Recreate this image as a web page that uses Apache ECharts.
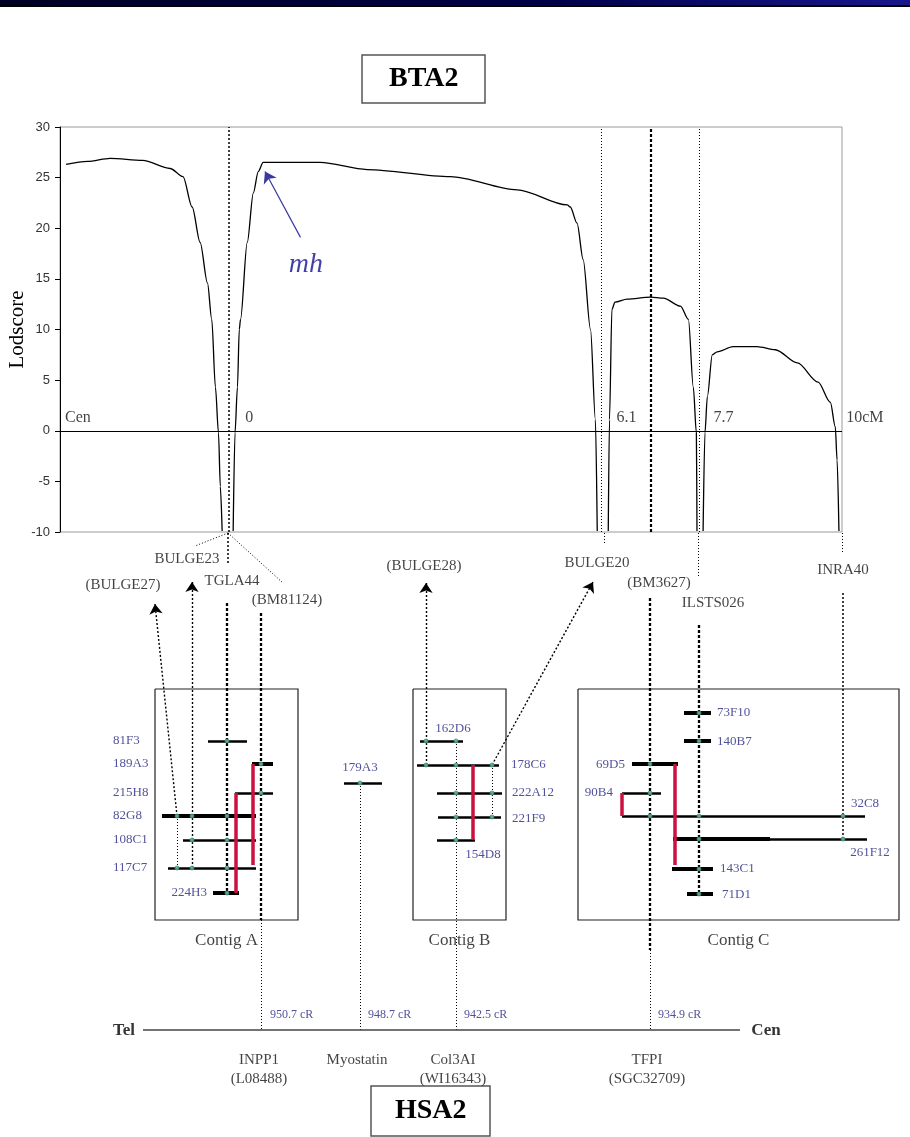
<!DOCTYPE html>
<html>
<head>
<meta charset="utf-8">
<script src="https://cdn.jsdelivr.net/npm/echarts@6/dist/echarts.min.js"></script>
<style>
html, body { margin: 0; padding: 0; background: #fff; }
#chart { width: 910px; height: 1137px; }
</style>
</head>
<body>
<div id="chart"></div>
<script>
// ---- BTA2 lodscore curve, [cM, lodscore], one array per stretch between markers
const lodLeft = [[-2.65,26.3],[-2.3,26.6],[-1.93,26.9],[-1.4,26.7],[-0.95,25.9],[-0.74,25.1],[-0.59,22.1],[-0.46,18.6],[-0.34,14.6],[-0.27,11.0],[-0.21,4.3],[-0.16,-0.2],[-0.13,-5.5],[-0.10,-9.9]];
const lodMid = [[0.08,-9.9],[0.11,-0.2],[0.15,4.3],[0.18,10.0],[0.20,11.0],[0.31,18.6],[0.41,23.5],[0.49,25.6],[0.57,26.5],[1.50,26.5],[2.27,25.8],[3.63,25.1],[4.72,23.8],[5.54,22.3],[5.59,22.1],[5.70,20.5],[5.80,16.9],[5.92,10.0],[6.00,1.1],[6.03,-9.9]];
const lodRight1 = [[6.21,-9.9],[6.23,1.1],[6.27,12.0],[6.32,12.7],[6.52,13.0],[6.90,13.2],[7.11,13.1],[7.39,12.3],[7.52,11.0],[7.60,4.3],[7.65,-0.2],[7.66,-9.9]];
const lodRight2 = [[7.76,-9.9],[7.79,-0.2],[7.83,3.4],[7.91,7.5],[7.99,7.8],[8.25,8.3],[8.64,8.3],[8.94,8.0],[9.30,6.7],[9.64,4.8],[9.84,2.8],[9.92,0.4],[9.95,-2.9],[9.98,-9.9]];

// map positions on the genetic map (cM)
const posLabels = ['Cen', '0', '6.1', '7.7', '10cM'];
const posCM = [-2.75, 0, 6.1, 7.7, 10];
const markerLineCM = [0, 6.1, 6.9, 7.7];          // 6.9 = BM3627
const mhArrow = [[1.18, 19.1], [0.60, 25.6]];       // tail -> head
const mhText = [1.27, 16.4];

// ---- physical map (diagram units = page pixels)
const cloneNames = ['81F3','189A3','215H8','82G8','108C1','117C7','224H3','179A3','162D6','178C6','222A12','221F9','154D8','73F10','140B7','69D5','90B4','32C8','261F12','143C1','71D1'];
const cloneY     = [741, 764, 793, 816, 840, 868, 893, 783, 741, 765, 793, 817, 840, 713, 741, 764, 793, 816, 839, 869, 894];
const cloneStart = [208, 252, 235, 162, 183, 168, 213, 344, 420, 417, 437, 438, 437, 684, 684, 632, 622, 622, 673, 672, 687];
const cloneEnd   = [247, 273, 273, 256, 256, 256, 239, 382, 463, 499, 502, 501, 475, 711, 711, 678, 661, 865, 867, 713, 713];

// red overlap connectors [x, yTop, yBottom]
const overlaps = [[253, 764, 865], [236, 793, 893], [473, 765, 840], [622, 793, 816], [675, 764, 865]];

const contigNames = ['Contig A', 'Contig B', 'Contig C'];
const contigBoxes = [[155, 689, 298, 920], [413, 689, 506, 920], [578, 689, 899, 920]];

const markerNames = ['BULGE23','(BULGE27)','TGLA44','(BM81124)','(BULGE28)','BULGE20','(BM3627)','ILSTS026','INRA40'];
const markerX = [187, 123, 232, 287, 424, 597, 659, 713, 843];
const markerY = [559, 585, 581, 600, 566, 563, 583, 603, 570];

// guide lines [x1, y1, x2, y2]
const guidesThin = [[228,533,195,546],[228,533,283,583],[604,533,604,543],[698,533,698,578],[842,533,842,552],
                    [177,868,177,816],[261,920,261,1030],[360,783,360,1030],[456,741,456,1030],[492,765,492,817],[650,950,650,1030]];
const guidesMid = [[228,533,228,563],[843,593,843,839]];
const guidesThick = [[227,603,227,893],[261,613,261,920],[650,598,650,950],[699,625,699,894]];
const guideArrows = [[192,868,192,582],[177,816,155,604],[426,765,426,583],[492,765,593,582]];

// HSA2 map
const genes = ['INPP1', 'Myostatin', 'Col3AI', 'TFPI'];
const geneAcc = ['(L08488)', '', '(WI16343)', '(SGC32709)'];
const geneCR = ['950.7 cR', '948.7 cR', '942.5 cR', '934.9 cR'];
const geneX = [262, 360, 456, 650];
const hsaLine = [143, 740, 1030];

// ---- styles / layout
const serif = '"Liberation Serif", "Times New Roman", serif';
const sans = '"Liberation Sans", Arial, sans-serif';
const navy = '#25257f';
const thickClones = ['189A3','82G8','224H3','73F10','140B7','69D5','143C1','71D1'];
const thickPart = { '261F12': 770 };
const cloneLabel = {
  '81F3': [113, 741, 'left'], '189A3': [113, 764, 'left'], '215H8': [113, 793, 'left'],
  '82G8': [113, 816, 'left'], '108C1': [113, 840, 'left'], '117C7': [113, 868, 'left'],
  '224H3': [207, 893, 'right'], '179A3': [360, 768, 'center'], '162D6': [453, 729, 'center'],
  '178C6': [511, 765, 'left'], '222A12': [512, 793, 'left'], '221F9': [512, 819, 'left'],
  '154D8': [483, 855, 'center'], '73F10': [717, 713, 'left'], '140B7': [717, 742, 'left'],
  '69D5': [625, 765, 'right'], '90B4': [613, 793, 'right'], '32C8': [865, 804, 'center'],
  '261F12': [870, 853, 'center'], '143C1': [720, 869, 'left'], '71D1': [722, 895, 'left']
};
const posLabelDx = [5, 17, 15, 14, 6];

function seg(c) { return { coords: [[c[0], c[1]], [c[2], c[3]]] }; }
function txt(x, y, text, opt) {
  return { value: [x, y], label: Object.assign({ show: true, formatter: text, position: 'inside', align: 'center', verticalAlign: 'middle' }, opt) };
}
function linesSeries(data, lineStyle, extra) {
  return Object.assign({ type: 'lines', coordinateSystem: 'cartesian2d', xAxisIndex: 1, yAxisIndex: 1, silent: true,
    symbol: 'none', data: data, lineStyle: Object.assign({ color: '#000', opacity: 1, curveness: 0 }, lineStyle), z: 3 }, extra || {});
}

// clones
const cloneData = cloneNames.map((n, i) => ({
  coords: [[cloneStart[i], cloneY[i]], [cloneEnd[i], cloneY[i]]],
  lineStyle: { width: thickClones.includes(n) ? 4 : 2.5 }
}));
Object.keys(thickPart).forEach(n => {
  const i = cloneNames.indexOf(n);
  cloneData.push({ coords: [[cloneStart[i], cloneY[i]], [thickPart[n], cloneY[i]]], lineStyle: { width: 4 } });
});

// dots where a vertical guide crosses a clone
const verticals = [...guidesThin, ...guidesMid, ...guidesThick, ...guideArrows]
  .filter(g => g[0] === g[2])
  .map(g => [g[0], Math.min(g[1], g[3]), Math.max(g[1], g[3])]);
const dots = [];
cloneNames.forEach((n, i) => {
  verticals.forEach(v => {
    if (v[0] >= cloneStart[i] && v[0] <= cloneEnd[i] && cloneY[i] >= v[1] - 1 && cloneY[i] <= v[2] + 1) {
      if (!dots.some(d => d[0] === v[0] && d[1] === cloneY[i])) dots.push([v[0], cloneY[i]]);
    }
  });
});

const labelData = [];
cloneNames.forEach(n => {
  const l = cloneLabel[n];
  labelData.push(txt(l[0], l[1], n, { align: l[2], color: navy, fontFamily: serif, fontSize: 13 }));
});
markerNames.forEach((n, i) => labelData.push(txt(markerX[i], markerY[i], n, { color: '#111', fontFamily: serif, fontSize: 15 })));
contigNames.forEach((n, i) => {
  const b = contigBoxes[i];
  labelData.push(txt((b[0] + b[2]) / 2, 941, n, { color: '#111', fontFamily: serif, fontSize: 17 }));
});
genes.forEach((g, i) => {
  labelData.push(txt(geneX[i] + 8, 1015, geneCR[i], { align: 'left', color: navy, fontFamily: serif, fontSize: 12 }));
  labelData.push(txt(geneX[i] - 3, 1060, g, { color: '#111', fontFamily: serif, fontSize: 15 }));
  if (geneAcc[i]) labelData.push(txt(geneX[i] - 3, 1079, geneAcc[i], { color: '#111', fontFamily: serif, fontSize: 15 }));
});
labelData.push(txt(124, 1031, 'Tel', { color: '#000', fontFamily: serif, fontSize: 17, fontWeight: 'bold' }));
labelData.push(txt(766, 1031, 'Cen', { color: '#000', fontFamily: serif, fontSize: 17, fontWeight: 'bold' }));

const markerLineStyles = [
  { type: [2, 2], width: 1.5 }, { type: [1, 2], width: 1 }, { type: [3, 2], width: 2.2 }, { type: [1, 2], width: 1 }
];

const curveSeries = [lodLeft, lodMid, lodRight1, lodRight2].map(d => ({
  type: 'line', xAxisIndex: 0, yAxisIndex: 0, data: d, showSymbol: false, symbol: 'none',
  smooth: 0.3, smoothMonotone: 'x', silent: true, z: 4,
  lineStyle: { color: '#000', width: 1.3 }
}));
curveSeries[0].markLine = {
  silent: true, symbol: ['none', 'none'], label: { show: false }, animation: false,
  data: [{ yAxis: 0, lineStyle: { type: 'solid', width: 1.2, color: '#000' } }]
    .concat(markerLineCM.map((c, i) => ({ xAxis: c, lineStyle: Object.assign({ color: '#000' }, markerLineStyles[i]) })))
};

const option = {
  animation: false,
  backgroundColor: '#fff',
  title: [
    { text: 'BTA2', left: 362, top: 55, padding: [9, 27, 9, 27], borderWidth: 1.5, borderColor: '#555',
      textStyle: { fontFamily: serif, fontSize: 28, fontWeight: 'bold', color: '#000', lineHeight: 30 } },
    { text: 'HSA2', left: 371, top: 1086, padding: [10, 24, 10, 24], borderWidth: 1.5, borderColor: '#555',
      textStyle: { fontFamily: serif, fontSize: 28, fontWeight: 'bold', color: '#000', lineHeight: 30 } }
  ],
  graphic: [
    { type: 'rect', shape: { x: 0, y: 0, width: 910, height: 5 }, silent: true,
      style: { fill: new echarts.graphic.LinearGradient(0, 0, 1, 0, [
        { offset: 0, color: '#000024' }, { offset: 0.6, color: '#000048' }, { offset: 1, color: '#18188e' }]) } },
    { type: 'rect', shape: { x: 0, y: 5, width: 910, height: 2 }, silent: true, style: { fill: '#000' } }
  ],
  grid: [
    { left: 60, top: 127, width: 782, height: 405, show: true, borderColor: '#9a9a9a', borderWidth: 1,
      backgroundColor: 'transparent', outerBoundsMode: 'none', containLabel: false },
    { left: 0, top: 0, width: 910, height: 1137, show: false, outerBoundsMode: 'none', containLabel: false }
  ],
  xAxis: [
    { gridIndex: 0, type: 'value', min: -2.75, max: 10.03, show: false },
    { gridIndex: 1, type: 'value', min: 0, max: 910, show: false }
  ],
  yAxis: [
    { gridIndex: 0, type: 'value', min: -10, max: 30, interval: 5,
      name: 'Lodscore', nameLocation: 'middle', nameGap: 32, nameRotate: 90, nameMoveOverlap: false,
      nameTextStyle: { fontFamily: serif, fontSize: 21, color: '#000' },
      axisLine: { show: true, onZero: false, lineStyle: { color: '#000', width: 1 } },
      axisTick: { show: true, length: 5, lineStyle: { color: '#000' } },
      axisLabel: { color: '#333', fontFamily: sans, fontSize: 13, margin: 10 },
      splitLine: { show: false } },
    { gridIndex: 1, type: 'value', min: 0, max: 1137, inverse: true, show: false }
  ],
  series: [
    ...curveSeries,
    { type: 'lines', coordinateSystem: 'cartesian2d', xAxisIndex: 0, yAxisIndex: 0, silent: true,
      symbol: ['none', 'arrow'], symbolSize: 11, data: [{ coords: mhArrow }],
      lineStyle: { color: '#3a3a9e', width: 1.2, opacity: 1 }, z: 5 },
    { type: 'scatter', xAxisIndex: 0, yAxisIndex: 0, silent: true, clip: false, symbolSize: 1,
      itemStyle: { color: 'rgba(0,0,0,0)' }, z: 6,
      data: posLabels.map((p, i) => txt(posCM[i], 0, p, { align: 'left', offset: [posLabelDx[i], -13], color: '#111', fontFamily: serif, fontSize: 16 }))
        .concat([txt(mhText[0], mhText[1], 'mh', { color: '#12128e', fontFamily: serif, fontSize: 28, fontStyle: 'italic' })]) },

    // physical map
    linesSeries(contigBoxes.map(b => ({ coords: [[b[0], b[1]], [b[2], b[1]], [b[2], b[3]], [b[0], b[3]], [b[0], b[1]]] })),
      { color: '#222', width: 1.2 }, { polyline: true }),
    linesSeries(guidesThin.map(seg), { type: [1, 2], width: 1 }),
    linesSeries(guidesMid.map(seg), { type: [2, 2], width: 1.5 }),
    linesSeries(guidesThick.map(seg), { type: [3, 2], width: 2.3 }),
    linesSeries(guideArrows.map(seg), { type: [2, 2], width: 1.4 }, { symbol: ['none', 'arrow'], symbolSize: 10 }),
    linesSeries(cloneData, { width: 2.5 }, { z: 5 }),
    linesSeries(overlaps.map(o => ({ coords: [[o[0], o[1]], [o[0], o[2]]] })), { color: '#cc1040', width: 3.5 }, { z: 6 }),
    linesSeries([{ coords: [[hsaLine[0], hsaLine[2]], [hsaLine[1], hsaLine[2]]] }], { color: '#444', width: 1.5 }),
    { type: 'scatter', xAxisIndex: 1, yAxisIndex: 1, silent: true, symbolSize: 4, data: dots,
      itemStyle: { color: '#7fc7b0', borderColor: '#2f8a70', borderWidth: 1 }, z: 7 },
    { type: 'scatter', xAxisIndex: 1, yAxisIndex: 1, silent: true, symbolSize: 1,
      itemStyle: { color: 'rgba(0,0,0,0)' }, data: labelData, z: 8 }
  ]
};

const chart = echarts.init(document.getElementById('chart'));
chart.setOption(option);
</script>
</body>
</html>
